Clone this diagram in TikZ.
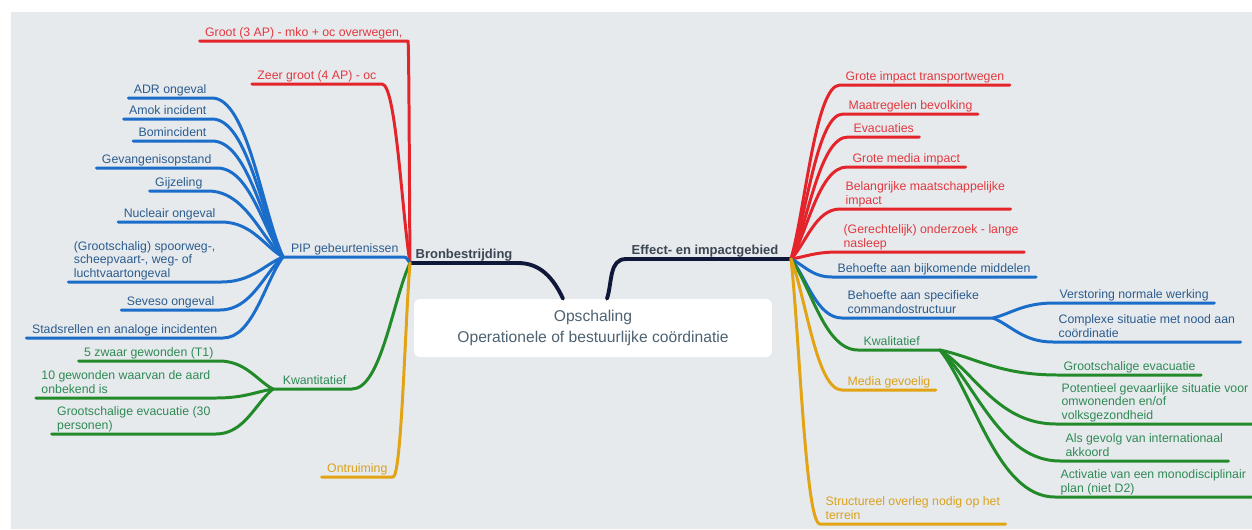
\documentclass[tikz,border=0pt]{standalone}
\usepackage{fontspec}
\setmainfont{Liberation Sans}
\usetikzlibrary{positioning,calc}

\definecolor{bgcol}{HTML}{E7EAED}
\definecolor{navycol}{HTML}{0F1838}
\definecolor{redcol}{HTML}{E3242B}
\definecolor{bluecol}{HTML}{1A6DC9}
\definecolor{greencol}{HTML}{238A2A}
\definecolor{orangecol}{HTML}{E2A415}
\definecolor{redtext}{HTML}{E2383F}
\definecolor{bluetext}{HTML}{2B5C8E}
\definecolor{greentext}{HTML}{2F8A55}
\definecolor{orangetext}{HTML}{D9A11C}
\definecolor{titletext}{HTML}{3B4652}
\definecolor{roottext}{HTML}{4D6272}

\begin{document}
\begin{tikzpicture}[x=0.02cm, y=-0.02cm, line cap=round, line join=round,
  lbl/.style={inner xsep=3pt, inner ysep=0.3pt, text depth=0.22em, align=left, font=\fontsize{7}{7.7}\selectfont},
  title/.style={inner xsep=3pt, inner ysep=0.3pt, text depth=0.22em, text=titletext, font=\fontsize{7.4}{8}\selectfont\bfseries},
  rootbox/.style={fill=white, rounded corners=3pt, minimum width=7.16cm, minimum height=1.16cm, align=center, text=roottext, font=\fontsize{8.9}{11.9}\selectfont},
  curvy/.style={to path={.. controls ($(\tikztostart)!0.3!(\tikztotarget)$) and ($(\tikztotarget)!0.5!(\tikztotarget -| \tikztostart)$) .. (\tikztotarget)}},
  navyline/.style={draw=navycol, line width=2.2pt},
  redline/.style={draw=redcol, line width=1.7pt},
  blueline/.style={draw=bluecol, line width=1.7pt},
  greenline/.style={draw=greencol, line width=1.7pt},
  orangeline/.style={draw=orangecol, line width=1.7pt},
  redtxt/.style={text=redtext},
  bluetxt/.style={text=bluetext},
  greentxt/.style={text=greentext},
  orangetxt/.style={text=orangetext}]
\useasboundingbox (0,0) rectangle (1252,529);
\fill[bgcol] (11,12) rectangle (1252,529);

% centre
\node[rootbox] (R) at (593,328) {Opschaling\\Operationele of bestuurlijke coördinatie};
\coordinate (R1) at ($(R.north)+(-30,0)$);
\coordinate (R2) at ($(R.north)+(14,0)$);
\coordinate (B0) at (410,263);
\coordinate (E0) at (791,259);
\node[title, anchor=south west] (B) at (B0) {Bronbestrijding};
\node[title, anchor=south east] (E) at (784,259) {Effect- en impactgebied};
\draw[navyline] (R1) to[out=115, in=0] (B.south east) -- (B0);
\draw[navyline] (R2) to[out=72, in=180] (E.south west) -- (E0);

% Bronbestrijding
\node[lbl, redtxt, anchor=south east] (G1) at (408,41) {Groot (3 AP) - mko + oc overwegen,};
\node[lbl, redtxt, anchor=south east] (G2) at (382,84) {Zeer groot (4 AP) - oc};
\draw[redline] (B0) to[curvy] (G1.south east) -- (G1.south west);
\draw[redline] (B0) to[curvy] (G2.south east) -- (G2.south west);

\node[lbl, bluetxt, anchor=south east] (P0) at (404,257) {PIP gebeurtenissen};
\coordinate (P) at (283,257);
\draw[blueline] (B0) to[curvy] (P0.south east) -- (P);
\node[lbl, bluetxt, anchor=south east] (P1) at (212,98) {ADR ongeval};
\node[lbl, bluetxt, anchor=south east] (P2) at (212,119) {Amok incident};
\node[lbl, bluetxt, anchor=south east] (P3) at (212,141) {Bomincident};
\node[lbl, bluetxt, anchor=south east] (P4) at (217,168) {Gevangenisopstand};
\node[lbl, bluetxt, anchor=south east] (P5) at (208,191) {Gijzeling};
\node[lbl, bluetxt, anchor=south east] (P6) at (221,222) {Nucleair ongeval};
\node[lbl, bluetxt, anchor=south east] (P7) at (221,282) {(Grootschalig) spoorweg-,\\scheepvaart-, weg- of\\luchtvaartongeval};
\node[lbl, bluetxt, anchor=south east] (P8) at (220,310) {Seveso ongeval};
\node[lbl, bluetxt, anchor=south east] (P9) at (223,338) {Stadsrellen en analoge incidenten};
\draw[blueline] (P) to[curvy] (P1.south east) -- (P1.south west);
\draw[blueline] (P) to[curvy] (P2.south east) -- (P2.south west);
\draw[blueline] (P) to[curvy] (P3.south east) -- (P3.south west);
\draw[blueline] (P) to[curvy] (P4.south east) -- (P4.south west);
\draw[blueline] (P) to[curvy] (P5.south east) -- (P5.south west);
\draw[blueline] (P) to[curvy] (P6.south east) -- (P6.south west);
\draw[blueline] (P) to[curvy] (P7.south east) -- (P7.south west);
\draw[blueline] (P) to[curvy] (P8.south east) -- (P8.south west);
\draw[blueline] (P) to[curvy] (P9.south east) -- (P9.south west);

\node[lbl, greentxt, anchor=south east] (K0) at (352,389) {Kwantitatief};
\coordinate (K) at (273,389);
\draw[greenline] (B0) to[curvy] (K0.south east) -- (K);
\node[lbl, greentxt, anchor=south east] (K1) at (219,361) {5 zwaar gewonden (T1)};
\node[lbl, greentxt, anchor=south east] (K2) at (216,398) {10 gewonden waarvan de aard\\onbekend is};
\node[lbl, greentxt, anchor=south east] (K3) at (216,434) {Grootschalige evacuatie (30\\personen)};
\draw[greenline] (K) to[curvy] (K1.south east) -- (K1.south west);
\draw[greenline] (K) to[curvy] (K2.south east) -- (K2.south west);
\draw[greenline] (K) to[curvy] (K3.south east) -- (K3.south west);

\node[lbl, orangetxt, anchor=south east] (O1) at (393,477) {Ontruiming};
\draw[orangeline] (B0) to[curvy] (O1.south east) -- (O1.south west);

% Effect- en impactgebied
\node[lbl, redtxt, anchor=south west] (E1) at (840,85) {Grote impact transportwegen};
\node[lbl, redtxt, anchor=south west] (E2) at (843,114) {Maatregelen bevolking};
\node[lbl, redtxt, anchor=south west] (E3) at (848,137) {Evacuaties};
\node[lbl, redtxt, anchor=south west] (E4) at (847,167) {Grote media impact};
\node[lbl, redtxt, anchor=south west] (E5) at (840,209) {Belangrijke maatschappelijke\\impact};
\node[lbl, redtxt, anchor=south west] (E6) at (838,252) {(Gerechtelijk) onderzoek - lange\\nasleep};
\draw[redline] (E0) to[curvy] (E1.south west) -- (E1.south east);
\draw[redline] (E0) to[curvy] (E2.south west) -- (E2.south east);
\draw[redline] (E0) to[curvy] (E3.south west) -- (E3.south east);
\draw[redline] (E0) to[curvy] (E4.south west) -- (E4.south east);
\draw[redline] (E0) to[curvy] (E5.south west) -- (E5.south east);
\draw[redline] (E0) to[curvy] (E6.south west) -- (E6.south east);

\node[lbl, bluetxt, anchor=south west] (E7) at (832,277) {Behoefte aan bijkomende middelen};
\draw[blueline] (E0) to[curvy] (E7.south west) -- (E7.south east);
\node[lbl, bluetxt, anchor=south west] (C0) at (842,318) {Behoefte aan specifieke\\commandostructuur};
\coordinate (C) at (993,318);
\draw[blueline] (E0) to[curvy] (C0.south west) -- (C);
\node[lbl, bluetxt, anchor=south west] (C1) at (1054,303) {Verstoring normale werking};
\node[lbl, bluetxt, anchor=south west] (C2) at (1053,342) {Complexe situatie met nood aan\\coördinatie};
\draw[blueline] (C) to[curvy] (C1.south west) -- (C1.south east);
\draw[blueline] (C) to[curvy] (C2.south west) -- (C2.south east);

\node[lbl, greentxt, anchor=south west] (Q0) at (858,350) {Kwalitatief};
\coordinate (Q) at (940,350);
\draw[greenline] (E0) to[curvy] (Q0.south west) -- (Q);
\node[lbl, greentxt, anchor=south west] (Q1) at (1058,375) {Grootschalige evacuatie};
\node[lbl, greentxt, anchor=south west] (Q2) at (1056,424) {Potentieel gevaarlijke situatie voor\\omwonenden en/of\\volksgezondheid};
\node[lbl, greentxt, anchor=south west] (Q3) at (1060,461) {Als gevolg van internationaal\\akkoord};
\node[lbl, greentxt, anchor=south west] (Q4) at (1055,497) {Activatie van een monodisciplinair\\plan (niet D2)};
\draw[greenline] (Q) to[curvy] (Q1.south west) -- (Q1.south east);
\draw[greenline] (Q) to[curvy] (Q2.south west) -- (Q2.south east);
\draw[greenline] (Q) to[curvy] (Q3.south west) -- (Q3.south east);
\draw[greenline] (Q) to[curvy] (Q4.south west) -- (Q4.south east);

\node[lbl, orangetxt, anchor=south west] (M1) at (842,390) {Media gevoelig};
\node[lbl, orangetxt, anchor=south west] (M2) at (820,524) {Structureel overleg nodig op het\\terrein};
\draw[orangeline] (E0) to[curvy] (M1.south west) -- (M1.south east);
\draw[orangeline] (E0) to[curvy] (M2.south west) -- (M2.south east);
\end{tikzpicture}
\end{document}
